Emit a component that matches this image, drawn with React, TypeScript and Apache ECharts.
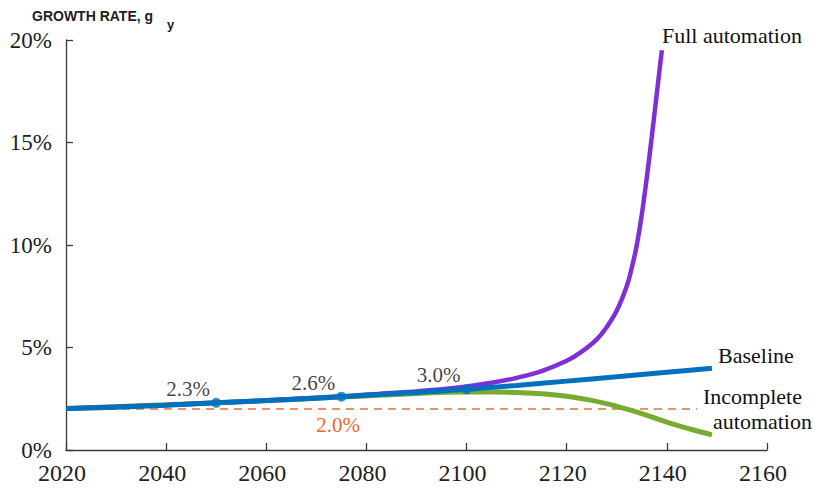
import React, { useEffect, useRef } from "react";
import * as echarts from "echarts";

const xTicks = [2020, 2040, 2060, 2080, 2100, 2120, 2140, 2160];
const yTicks = [0, 5, 10, 15, 20];

const baselineYears = [2020, 2030, 2040, 2050, 2060, 2070, 2075, 2080, 2090, 2100, 2110, 2120, 2130, 2140, 2149];
const baselineValues = [2.02, 2.09, 2.18, 2.3, 2.41, 2.53, 2.6, 2.67, 2.81, 2.96, 3.15, 3.36, 3.57, 3.79, 3.99];

const fullYears = [2020, 2050, 2075, 2085, 2090, 2095, 2100, 2105, 2110, 2115, 2120, 2123, 2126, 2128, 2130, 2132, 2133, 2134, 2135, 2136, 2137, 2138, 2139];
const fullValues = [2.02, 2.3, 2.62, 2.78, 2.86, 2.96, 3.1, 3.28, 3.52, 3.85, 4.35, 4.8, 5.4, 6.0, 6.8, 8.0, 8.9, 10.0, 11.5, 13.3, 15.3, 17.4, 19.5];

const incompleteYears = [2020, 2050, 2075, 2090, 2100, 2105, 2110, 2115, 2120, 2125, 2130, 2135, 2140, 2145, 2149];
const incompleteValues = [2.02, 2.3, 2.58, 2.76, 2.83, 2.83, 2.8, 2.74, 2.62, 2.42, 2.13, 1.78, 1.36, 1.0, 0.74];

const referenceYears = [2020, 2146];
const referenceValues = [2.0, 2.0];

const markerYears = [2050, 2075, 2100];
const markerValues = [2.3, 2.6, 2.96];
const markerLabels = ["2.3%", "2.6%", "3.0%"];

const pairs = (xs: number[], ys: number[]) => xs.map((x, i) => [x, ys[i]]);

const SERIF = "Liberation Serif";
const SANS = "Liberation Sans";

export default function App() {
  const ref = useRef<HTMLDivElement>(null);
  useEffect(() => {
    if (!ref.current) return;
    const chart = echarts.init(ref.current, null, { renderer: "svg" });
    const axisColor = "#3a3a3a";
    chart.setOption({
      animation: false,
      backgroundColor: "#ffffff",
      grid: { left: 66, right: 50, top: 40, bottom: 39, containLabel: false },
      xAxis: {
        type: "value",
        min: xTicks[0],
        max: xTicks[xTicks.length - 1],
        interval: 20,
        axisLine: { show: true, lineStyle: { color: axisColor, width: 1.3 } },
        axisTick: { show: true, inside: true, length: 7, lineStyle: { color: axisColor, width: 1.3 } },
        splitLine: { show: false },
        axisLabel: { color: "#222", fontFamily: SERIF, fontSize: 24, margin: 11, padding: [0, 8, 0, 0], formatter: (v: number) => String(v) },
      },
      yAxis: {
        type: "value",
        min: yTicks[0],
        max: yTicks[yTicks.length - 1],
        interval: 5,
        axisLine: { show: true, lineStyle: { color: axisColor, width: 1.3 } },
        axisTick: { show: true, inside: true, length: 7, lineStyle: { color: axisColor, width: 1.3 } },
        splitLine: { show: false },
        axisLabel: { color: "#222", fontFamily: SERIF, fontSize: 23, margin: 14, formatter: "{value}%" },
      },
      series: [
        {
          type: "line",
          name: "2.0%",
          data: pairs(referenceYears, referenceValues),
          symbol: "none",
          lineStyle: { color: "#E8703A", width: 1.5, type: [8, 6] },
          z: 1,
        },
        {
          type: "line",
          name: "Incomplete automation",
          data: pairs(incompleteYears, incompleteValues),
          symbol: "none",
          smooth: 0.4,
          lineStyle: { color: "#77AC30", width: 5 },
          z: 2,
        },
        {
          type: "line",
          name: "Full automation",
          data: pairs(fullYears, fullValues),
          symbol: "none",
          smooth: 0.4,
          lineStyle: { color: "#7E2FD6", width: 4.5 },
          z: 3,
        },
        {
          type: "line",
          name: "Baseline",
          data: pairs(baselineYears, baselineValues),
          symbol: "none",
          smooth: 0.4,
          lineStyle: { color: "#0072BD", width: 5 },
          z: 4,
        },
        {
          type: "scatter",
          name: "markers",
          data: markerYears.map((x, i) => ({ value: [x, markerValues[i]], label: { formatter: markerLabels[i] } })),
          symbol: "circle",
          symbolSize: 10,
          itemStyle: { color: "#0072BD" },
          label: {
            show: true,
            position: "inside",
            offset: [-28, -14],
            color: "#111",
            fontFamily: SERIF,
            fontSize: 21,
          },
          z: 5,
        },
      ],
      graphic: [
        { type: "text", x: 32, y: 9, style: { text: "GROWTH RATE, g", fontFamily: SANS, fontWeight: "bold", fontSize: 14, fill: "#222" } },
        { type: "text", x: 167, y: 18, style: { text: "y", fontFamily: SANS, fontWeight: "bold", fontSize: 13, fill: "#222" } },
        { type: "text", x: 662, y: 35, style: { text: "Full automation", fontFamily: SERIF, fontSize: 22, fill: "#111", textVerticalAlign: "middle" } },
        { type: "text", x: 718, y: 355, style: { text: "Baseline", fontFamily: SERIF, fontSize: 22, fill: "#111", textVerticalAlign: "middle" } },
        { type: "text", x: 703, y: 396, style: { text: "Incomplete", fontFamily: SERIF, fontSize: 22, fill: "#111", textVerticalAlign: "middle" } },
        { type: "text", x: 713, y: 421, style: { text: "automation", fontFamily: SERIF, fontSize: 22, fill: "#111", textVerticalAlign: "middle" } },
        { type: "text", x: 338, y: 425, style: { text: "2.0%", fontFamily: SERIF, fontSize: 21, fill: "#E8692F", textAlign: "center", textVerticalAlign: "middle" } },
      ],
    });
    return () => chart.dispose();
  }, []);
  return <div ref={ref} style={{ position: "absolute", left: 0, top: 0, width: 817, height: 489 }} />;
}
